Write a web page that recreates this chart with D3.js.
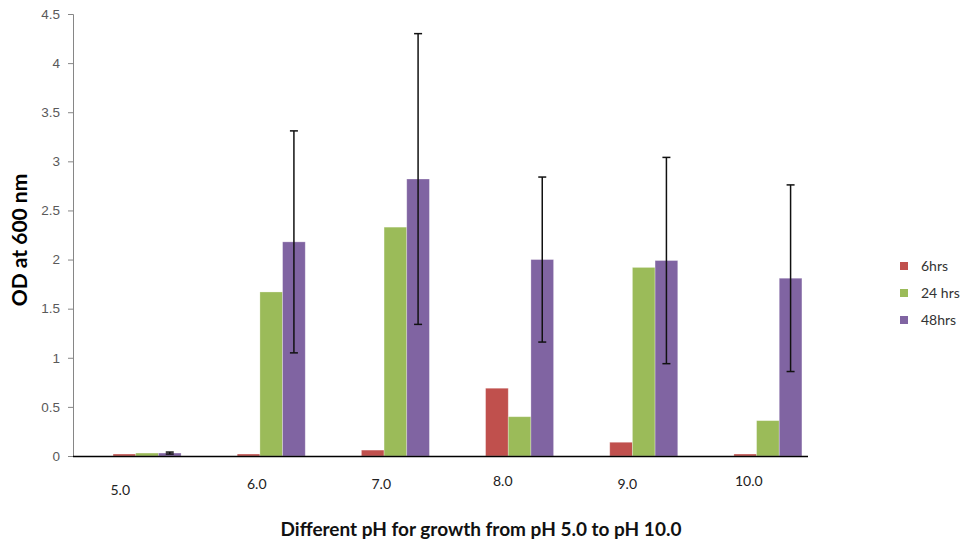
<!DOCTYPE html>
<html>
<head>
<meta charset="utf-8">
<script src="https://cdn.jsdelivr.net/npm/d3@7"></script>
<style>
  html, body { margin: 0; padding: 0; background: #fff; }
  svg { display: block; font-family: Lato, "Open Sans", "Liberation Sans", sans-serif; }
</style>
</head>
<body>
<svg id="chart" width="966" height="555"></svg>
<script>
// ---- data ----
const categories = ["5.0", "6.0", "7.0", "8.0", "9.0", "10.0"];
const seriesNames = ["6hrs", "24 hrs", "48hrs"];
const values6h  = [0.02, 0.02, 0.06, 0.69, 0.14, 0.02];
const values24h = [0.03, 1.67, 2.33, 0.40, 1.92, 0.36];
const values48h = [0.03, 2.18, 2.82, 2.00, 1.99, 1.81];
const errors48h = [0.01, 1.13, 1.48, 0.84, 1.05, 0.95];
const yTicks = [0, 0.5, 1, 1.5, 2, 2.5, 3, 3.5, 4, 4.5];

// label placement jitter (styling, as in original)
const xLabelDx = [-14, 0, 2, 1, 3, 2];
const xLabelDy = [6, 0, 0, -3, 0, -3];

const colors = ["#C0504D", "#9BBB59", "#8064A2"];
const seriesValues = [values6h, values24h, values48h];

const svg = d3.select("#chart");

const axisLeft = 73, axisRight = 808, yTop = 14, yBottom = 456;

const y = d3.scaleLinear().domain([0, 4.5]).range([yBottom, yTop]);
const x0 = d3.scaleBand().domain(categories).range([85, 830]).padding(0);
const xLab = d3.scaleBand().domain(categories).range([axisLeft, axisRight]).padding(0);
const groupWidth = 68;
const x1 = d3.scaleBand().domain(seriesNames).range([0, groupWidth]).padding(0);

// y axis
const yAxis = d3.axisLeft(y).tickValues(yTicks).tickSize(5).tickPadding(8)
  .tickFormat(d => String(d));
const gy = svg.append("g").attr("transform", `translate(${axisLeft},0)`).call(yAxis);
gy.select(".domain").attr("stroke", "#868686");
gy.selectAll(".tick line").attr("stroke", "#868686");
gy.selectAll(".tick text").attr("fill", "#595959").style("font-size", "13.5px");

// bars
const bars = svg.append("g");
categories.forEach((cat, i) => {
  const gx = x0(cat) + x0.bandwidth() / 2 - groupWidth / 2;
  seriesNames.forEach((s, j) => {
    const v = seriesValues[j][i];
    bars.append("rect")
      .attr("x", gx + x1(s))
      .attr("y", y(v))
      .attr("width", x1.bandwidth())
      .attr("height", y(0) - y(v))
      .attr("fill", colors[j])
      .attr("stroke", "#ffffff")
      .attr("stroke-opacity", 0.35)
      .attr("stroke-width", 0.8);
  });
});

// x axis baseline
svg.append("line")
  .attr("x1", axisLeft).attr("x2", axisRight)
  .attr("y1", y(0) + 0.5).attr("y2", y(0) + 0.5)
  .attr("stroke", "#000").attr("stroke-width", 1.6);

// error bars on 48hrs
const eb = svg.append("g").attr("stroke", "#111").attr("stroke-width", 1.5);
categories.forEach((cat, i) => {
  const gx = x0(cat) + x0.bandwidth() / 2 - groupWidth / 2;
  const cx = gx + x1("48hrs") + x1.bandwidth() / 2;
  const v = values48h[i], e = errors48h[i];
  const yt = y(v + e), yb = y(v - e);
  eb.append("line").attr("x1", cx).attr("x2", cx).attr("y1", yt).attr("y2", yb);
  eb.append("line").attr("x1", cx - 4).attr("x2", cx + 4).attr("y1", yt).attr("y2", yt);
  eb.append("line").attr("x1", cx - 4).attr("x2", cx + 4).attr("y1", yb).attr("y2", yb);
});

// x category labels
categories.forEach((cat, i) => {
  svg.append("text")
    .attr("x", xLab(cat) + xLab.bandwidth() / 2 + xLabelDx[i])
    .attr("y", 489 + xLabelDy[i])
    .attr("text-anchor", "middle")
    .attr("fill", "#222")
    .style("font-size", "14px")
    .text(cat);
});

// axis titles
svg.append("text")
  .attr("transform", `translate(27,${(yTop + yBottom) / 2 + 5}) rotate(-90)`)
  .attr("text-anchor", "middle")
  .attr("font-weight", "bold")
  .style("font-size", "21px")
  .attr("fill", "#000")
  .text("OD at 600 nm");

svg.append("text")
  .attr("x", 481).attr("y", 536)
  .attr("text-anchor", "middle")
  .attr("font-weight", "bold")
  .style("font-size", "19px")
  .attr("fill", "#111")
  .text("Different pH for growth from pH 5.0 to pH 10.0");

// legend
const legend = svg.append("g").attr("transform", "translate(900,262)");
seriesNames.forEach((s, j) => {
  const g = legend.append("g").attr("transform", `translate(0,${j * 27})`);
  g.append("rect").attr("width", 8).attr("height", 8).attr("fill", colors[j]);
  g.append("text").attr("x", 21).attr("y", 9)
    .style("font-size", "14px").attr("fill", "#333").text(s);
});
</script>
</body>
</html>
